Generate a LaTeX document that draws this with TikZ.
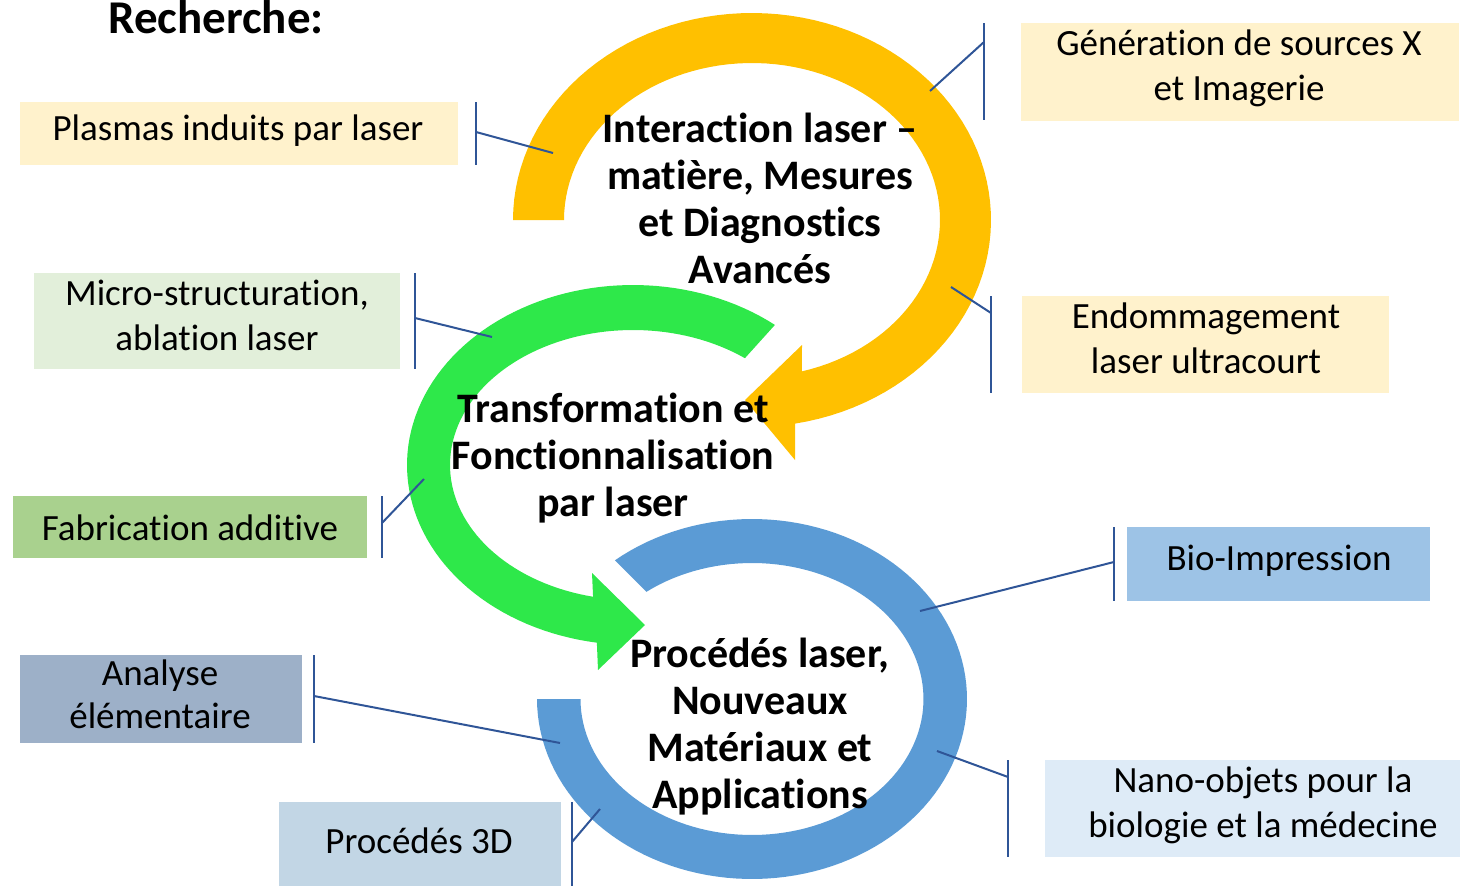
\documentclass[tikz,border=0pt]{standalone}
\usepackage{fontspec}
\setmainfont{Carlito}[Ligatures={NoCommon}]
\definecolor{yel}{HTML}{FFC000}
\definecolor{grn}{HTML}{2EE84A}
\definecolor{blu}{HTML}{5B9BD5}
\definecolor{con}{HTML}{2F5597}
\definecolor{bxYel}{HTML}{FFF2CC}
\definecolor{bxMic}{HTML}{E2EFDA}
\definecolor{bxFab}{HTML}{A9D18E}
\definecolor{bxAna}{HTML}{9DB0C8}
\definecolor{bxPro}{HTML}{C2D6E5}
\definecolor{bxBio}{HTML}{9DC3E6}
\definecolor{bxNan}{HTML}{DEEBF7}
\begin{document}
\begin{tikzpicture}[x=1pt,y=-1pt,
  callbox/.style={inner sep=0pt, outer sep=0pt, draw=none},
  calltext/.style={font=\fontsize{37}{45}\selectfont, align=center, anchor=base, inner sep=0pt},
  maintext/.style={font=\bfseries\fontsize{42}{47}\selectfont, align=center, anchor=base, inner sep=0pt},
  link/.style={draw=con, line width=2pt},
]
\useasboundingbox (0,0) rectangle (1460,886);

% boxes
\node[callbox, fill=bxYel, minimum width=438pt, minimum height=63pt] (bPl) at (239,133.5) {};
\node[callbox, fill=bxYel, minimum width=438pt, minimum height=98pt] (bGe) at (1240,72) {};
\node[callbox, fill=bxYel, minimum width=367pt, minimum height=97pt] (bEn) at (1205.5,344.5) {};
\node[callbox, fill=bxMic, minimum width=366pt, minimum height=96pt] (bMi) at (217,321) {};
\node[callbox, fill=bxFab, minimum width=354pt, minimum height=62pt] (bFa) at (190,527) {};
\node[callbox, fill=bxAna, minimum width=282pt, minimum height=88pt] (bAn) at (161,699) {};
\node[callbox, fill=bxPro, minimum width=282pt, minimum height=84pt] (bPr) at (420,844) {};
\node[callbox, fill=bxBio, minimum width=303pt, minimum height=74pt] (bBi) at (1278.5,564) {};
\node[callbox, fill=bxNan, minimum width=415pt, minimum height=97pt] (bNa) at (1252.5,808.5) {};

% yellow arrow
\fill[yel] plot[domain=180:-79.6, samples=90] ({752+239*cos(\x)},{220-207*sin(\x)})
  -- (795,460) -- (745,400) -- (802,345)
  -- plot[domain=-74.6:180, samples=90] ({752+188*cos(\x)},{220-157*sin(\x)}) -- cycle;
% green arrow
\fill[grn] plot[domain=51.1:260.8, samples=90] ({633+226*cos(\x)},{465-180*sin(\x)})
  -- (598,670) -- (645,625) -- (592,573)
  -- plot[domain=257.4:52.3, samples=90] ({633+183*cos(\x)},{465-135*sin(\x)}) -- cycle;
% blue ring
\fill[blu] plot[domain=180:489.6, samples=120] ({752+215*cos(\x)},{699-180*sin(\x)})
  -- plot[domain=488:180, samples=120] ({752+171.5*cos(\x)},{699-136*sin(\x)}) -- cycle;

% brackets and connectors
\coordinate (rPl) at (553,153); \coordinate (hPl) at (476,132);
\coordinate (kPl1) at (476,102); \coordinate (kPl2) at (476,165);
\coordinate (rGe) at (930,91); \coordinate (hGe) at (984,42);
\coordinate (kGe1) at (984,23); \coordinate (kGe2) at (984,120);
\coordinate (rEn) at (951,287); \coordinate (hEn) at (991,313);
\coordinate (kEn1) at (991,296); \coordinate (kEn2) at (991,393);
\coordinate (rMi) at (492,337); \coordinate (hMi) at (415,318);
\coordinate (kMi1) at (415,273); \coordinate (kMi2) at (415,369);
\coordinate (rFa) at (424,479); \coordinate (hFa) at (382,523);
\coordinate (kFa1) at (382,496); \coordinate (kFa2) at (382,558);
\coordinate (rAn) at (560,743); \coordinate (hAn) at (314,696);
\coordinate (kAn1) at (314,655); \coordinate (kAn2) at (314,743);
\coordinate (rPr) at (600,809); \coordinate (hPr) at (572,842);
\coordinate (kPr1) at (572,802); \coordinate (kPr2) at (572,886);
\coordinate (rBi) at (920,611); \coordinate (hBi) at (1114,562);
\coordinate (kBi1) at (1114,527); \coordinate (kBi2) at (1114,601);
\coordinate (rNa) at (937,751); \coordinate (hNa) at (1008,777);
\coordinate (kNa1) at (1008,760); \coordinate (kNa2) at (1008,857);
\foreach \n in {Pl,Ge,En,Mi,Fa,An,Pr,Bi,Na}{
  \draw[link] (k\n1) -- (k\n2);
  \draw[link] (r\n) -- (h\n);
}

% callout texts (anchor = baseline of last line)
\node[calltext] (tPl) at (238,140) {Plasmas induits par laser};
\node[calltext] (tGe) at (1239,100) {Génération de sources X\\et Imagerie};
\node[calltext] (tEn) at (1206,373) {Endommagement\\laser ultracourt};
\node[calltext] (tMi) at (217,350) {Micro-structuration,\\ablation laser};
\node[calltext] (tFa) at (190,540) {Fabrication additive};
\node[calltext, font=\fontsize{37}{43}\selectfont] (tAn) at (160,728) {Analyse\\élémentaire};
\node[calltext] (tPr) at (419,853) {Procédés 3D};
\node[calltext] (tBi) at (1279,570) {Bio-Impression};
\node[calltext] (tNa) at (1263,837) {Nano-objets pour la\\biologie et la médecine};

% main texts
\node[maintext] (mY) at (760,283) {Interaction laser –\\matière, Mesures\\et Diagnostics\\Avancés};
\node[maintext] (mG) at (613,516) {Transformation et\\Fonctionnalisation\\par laser};
\node[maintext] (mB) at (760,808) {Procédés laser,\\Nouveaux\\Matériaux et\\Applications};

\node[font=\bfseries\fontsize{47}{56}\selectfont, anchor=base west, inner sep=0pt] (title) at (108,34) {Recherche:};
\end{tikzpicture}
\end{document}
